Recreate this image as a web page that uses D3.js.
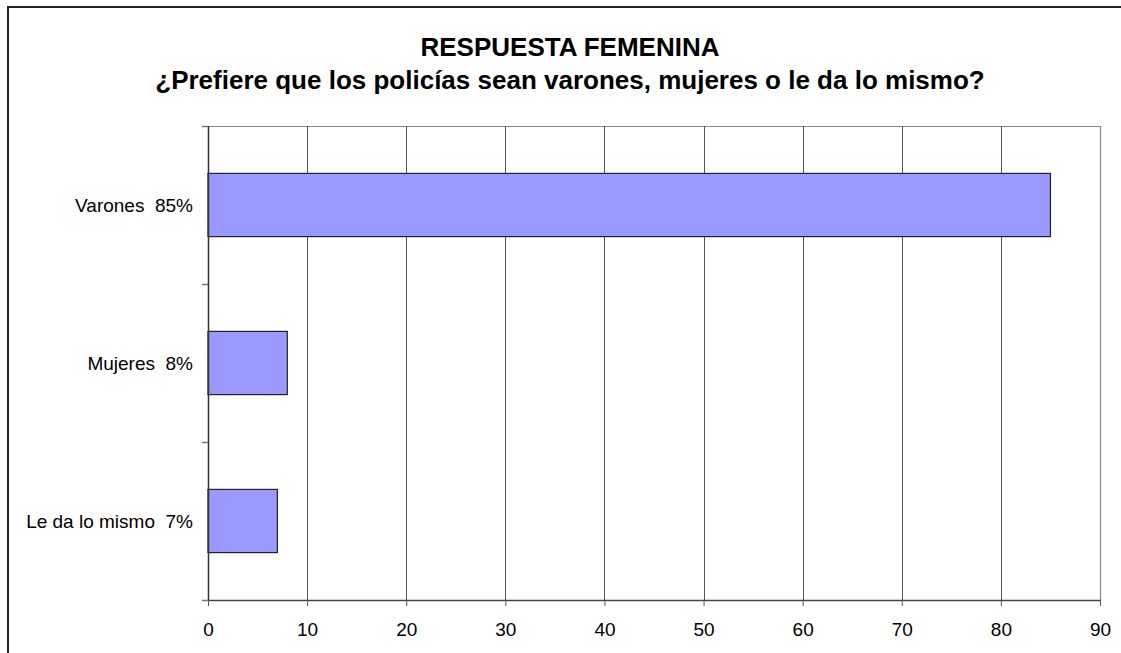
<!DOCTYPE html>
<html lang="es">
<head>
<meta charset="utf-8" />
<title>Respuesta femenina</title>
<script src="https://d3js.org/d3.v7.min.js"></script>
<style>
    html, body { margin: 0; background: #fff; overflow: hidden; }
    svg { display: block; }
    text { font-family: "Liberation Sans", Arial, sans-serif; fill: #000; }
    .title { font-size: 26px; font-weight: bold; text-anchor: middle; }
    .cat { font-size: 19px; text-anchor: end; }
</style>
</head>
<body>
<div id="chart"></div>
<script>
    var width = 1121;
    var height = 653;

    var categories = ["Varones", "Mujeres", "Le da lo mismo"];
    var values = [85, 8, 7];
    var xTicks = [0, 10, 20, 30, 40, 50, 60, 70, 80, 90];
    var titleLines = ["RESPUESTA FEMENINA", "¿Prefiere que los policías sean varones, mujeres o le da lo mismo?"];

    var plot = { left: 208, right: 1100, top: 126, bottom: 600 };

    var svg = d3.select("#chart").append("svg")
        .attr("width", width)
        .attr("height", height);

    // outer frame: only left and top edges are inside the picture
    svg.append("path")
        .attr("d", "M8," + height + "V7H" + width)
        .attr("fill", "none")
        .attr("stroke", "#222")
        .attr("stroke-width", 2);

    svg.selectAll(".title").data(titleLines).enter().append("text")
        .attr("class", "title")
        .attr("x", 570)
        .attr("y", function (d, i) { return 56 + i * 33; })
        .text(function (d) { return d; });

    var x = d3.scaleLinear().domain([0, 90]).range([plot.left, plot.right]);
    var y = d3.scaleBand().domain(categories).range([plot.top, plot.bottom])
        .paddingInner(0.6).paddingOuter(0.3);

    // plot border (top/right)
    svg.append("path")
        .attr("d", "M" + plot.left + "," + (plot.top + 0.5) + "H" + (plot.right + 0.5) + "V" + plot.bottom)
        .attr("fill", "none")
        .attr("stroke", "#888")
        .attr("stroke-width", 1.2);

    // vertical gridlines
    svg.selectAll(".grid").data(xTicks.slice(1, -1)).enter().append("line")
        .attr("x1", function (d) { return Math.round(x(d)) + 0.5; })
        .attr("x2", function (d) { return Math.round(x(d)) + 0.5; })
        .attr("y1", plot.top).attr("y2", plot.bottom)
        .attr("stroke", "#555");

    // bars
    svg.selectAll(".bar").data(values).enter().append("rect")
        .attr("x", x(0))
        .attr("y", function (d, i) { return y(categories[i]); })
        .attr("width", function (d) { return x(d) - x(0); })
        .attr("height", y.bandwidth())
        .attr("fill", "#9999ff")
        .attr("stroke", "#222")
        .attr("stroke-width", 1.2);

    // y axis with ticks at category boundaries
    var boundaries = categories.map(function (c) { return y(c) - y.step() * y.paddingInner() / 2; });
    boundaries.push(plot.bottom);
    svg.append("line")
        .attr("x1", plot.left + 0.5).attr("x2", plot.left + 0.5)
        .attr("y1", plot.top).attr("y2", plot.bottom)
        .attr("stroke", "#333").attr("stroke-width", 1.5);
    svg.selectAll(".ytick").data(boundaries).enter().append("line")
        .attr("x1", plot.left - 6).attr("x2", plot.left)
        .attr("y1", function (d) { return Math.round(d) + 0.5; })
        .attr("y2", function (d) { return Math.round(d) + 0.5; })
        .attr("stroke", "#777").attr("stroke-width", 1.5);

    svg.selectAll(".cat").data(categories).enter().append("text")
        .attr("class", "cat")
        .attr("x", 193)
        .attr("y", function (d) { return y(d) + y.bandwidth() / 2 + 7; })
        .attr("xml:space", "preserve")
        .text(function (d, i) { return d + "  " + values[i] + "%"; });

    // x axis
    var xAxis = svg.append("g")
        .attr("transform", "translate(0," + plot.bottom + ")")
        .call(d3.axisBottom(x).tickValues(xTicks).tickSize(6).tickSizeOuter(0));
    xAxis.select(".domain").attr("stroke", "#444").attr("stroke-width", 1.5);
    xAxis.selectAll(".tick line").attr("stroke", "#555");
    xAxis.selectAll(".tick text")
        .attr("dy", null)
        .attr("y", 36)
        .attr("fill", "#000")
        .style("font-size", "19px")
        .style("font-family", "'Liberation Sans', Arial, sans-serif");
</script>
</body>
</html>
